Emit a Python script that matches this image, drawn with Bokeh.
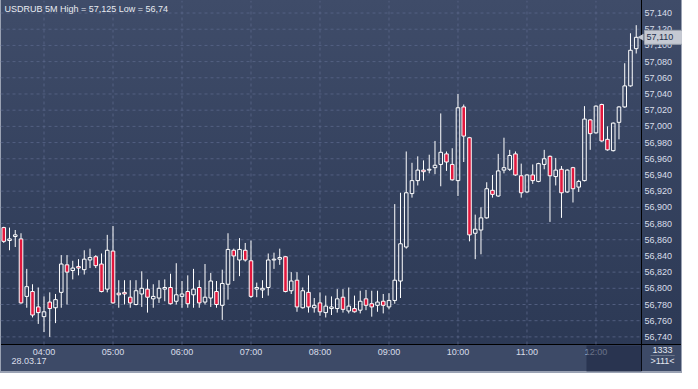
import math
import numpy as np
import pandas as pd
from bokeh.plotting import figure
from bokeh.models import (ColumnDataSource, Range1d, FixedTicker, DatetimeTickFormatter,
                          CustomJSTickFormatter, Label, BoxAnnotation)
from bokeh.embed import file_html
from bokeh.resources import INLINE

# ---------------- data ----------------
title_text = "USDRUB 5M High = 57,125 Low = 56,74"
start_time = "2017-03-28 03:25"
date_label = "28.03.17"
hour_ticks = ["2017-03-28 04:00", "2017-03-28 05:00", "2017-03-28 06:00",
              "2017-03-28 07:00", "2017-03-28 08:00", "2017-03-28 09:00",
              "2017-03-28 10:00", "2017-03-28 11:00", "2017-03-28 12:00"]
price_ticks = [56.74, 56.76, 56.78, 56.80, 56.82, 56.84, 56.86, 56.88, 56.90,
               56.92, 56.94, 56.96, 56.98, 57.00, 57.02, 57.04, 57.06, 57.08,
               57.10, 57.12, 57.14]
last_price_label = "57,110"
counter_top = "1333"
counter_bottom = ">111<"

opens = [56.875, 56.859, 56.864, 56.861, 56.790, 56.796, 56.777, 56.765, 56.783, 56.776,
         56.795, 56.829, 56.822, 56.827, 56.823, 56.835, 56.839, 56.830, 56.799, 56.846,
         56.794, 56.795, 56.789, 56.780, 56.793, 56.799, 56.787, 56.788, 56.799, 56.801,
         56.784, 56.790, 56.796, 56.792, 56.801, 56.783, 56.788, 56.796, 56.779, 56.805,
         56.847, 56.835, 56.847, 56.834, 56.799, 56.798, 56.801, 56.835, 56.836, 56.839,
         56.797, 56.810, 56.776, 56.795, 56.776, 56.782, 56.770, 56.775, 56.775, 56.789,
         56.772, 56.775, 56.773, 56.787, 56.781, 56.779, 56.784, 56.777, 56.785, 56.809,
         56.851, 56.917, 56.933, 56.946, 56.946, 56.949, 56.953, 56.966, 56.953, 56.933,
         57.024, 56.986, 56.868, 56.872, 56.887, 56.921, 56.914, 56.946, 56.947, 56.966,
         56.939, 56.919, 56.940, 56.932, 56.953, 56.963, 56.938, 56.947, 56.919, 56.949,
         56.925, 56.933, 57.008, 56.992, 57.027, 56.984, 56.970, 57.005, 57.024, 57.050,
         57.096]
highs = [56.876, 56.875, 56.872, 56.868, 56.824, 56.805, 56.801, 56.790, 56.795, 56.793,
         56.841, 56.841, 56.834, 56.836, 56.847, 56.849, 56.841, 56.843, 56.866, 56.877,
         56.810, 56.810, 56.810, 56.810, 56.821, 56.811, 56.805, 56.810, 56.811, 56.818,
         56.831, 56.809, 56.816, 56.824, 56.810, 56.830, 56.819, 56.809, 56.823, 56.868,
         56.849, 56.862, 56.856, 56.859, 56.807, 56.810, 56.843, 56.844, 56.849, 56.840,
         56.820, 56.820, 56.801, 56.816, 56.788, 56.795, 56.791, 56.790, 56.799, 56.799,
         56.801, 56.791, 56.797, 56.798, 56.797, 56.797, 56.793, 56.794, 56.904, 56.918,
         56.969, 56.955, 56.963, 56.958, 56.965, 56.982, 57.016, 56.969, 56.973, 57.040,
         57.027, 56.987, 56.891, 56.900, 56.931, 56.940, 56.966, 56.986, 56.971, 56.969,
         56.954, 56.941, 56.953, 56.955, 56.971, 56.964, 56.961, 56.951, 56.947, 56.950,
         56.934, 57.025, 57.009, 57.026, 57.028, 57.000, 57.005, 57.025, 57.078, 57.115,
         57.125]
lows = [56.856, 56.847, 56.851, 56.781, 56.776, 56.764, 56.756, 56.746, 56.740, 56.757,
        56.776, 56.780, 56.811, 56.816, 56.817, 56.825, 56.825, 56.795, 56.795, 56.781,
        56.776, 56.780, 56.776, 56.779, 56.777, 56.770, 56.776, 56.782, 56.784, 56.780,
        56.780, 56.776, 56.776, 56.776, 56.776, 56.780, 56.777, 56.776, 56.761, 56.786,
        56.809, 56.815, 56.833, 56.788, 56.789, 56.788, 56.791, 56.824, 56.829, 56.795,
        56.793, 56.771, 56.775, 56.770, 56.770, 56.766, 56.764, 56.767, 56.770, 56.770,
        56.769, 56.770, 56.769, 56.773, 56.765, 56.771, 56.769, 56.774, 56.781, 56.788,
        56.849, 56.912, 56.927, 56.933, 56.942, 56.941, 56.926, 56.945, 56.933, 56.914,
        56.956, 56.858, 56.836, 56.842, 56.886, 56.912, 56.913, 56.942, 56.945, 56.939,
        56.912, 56.918, 56.929, 56.931, 56.947, 56.882, 56.927, 56.887, 56.918, 56.906,
        56.919, 56.932, 56.971, 56.991, 56.981, 56.970, 56.969, 56.984, 57.023, 57.049,
        57.090]
closes = [56.858, 56.861, 56.866, 56.782, 56.802, 56.767, 56.770, 56.771, 56.775, 56.786,
          56.830, 56.820, 56.825, 56.825, 56.836, 56.838, 56.828, 56.796, 56.847, 56.782,
          56.792, 56.793, 56.782, 56.797, 56.800, 56.789, 56.790, 56.800, 56.801, 56.781,
          56.792, 56.793, 56.781, 56.799, 56.782, 56.789, 56.809, 56.780, 56.806, 56.848,
          56.840, 56.848, 56.835, 56.790, 56.801, 56.800, 56.835, 56.836, 56.838, 56.796,
          56.809, 56.777, 56.797, 56.777, 56.779, 56.771, 56.778, 56.777, 56.787, 56.774,
          56.778, 56.771, 56.784, 56.779, 56.777, 56.783, 56.779, 56.785, 56.810, 56.855,
          56.918, 56.933, 56.946, 56.944, 56.947, 56.952, 56.968, 56.956, 56.934, 57.023,
          56.988, 56.866, 56.873, 56.887, 56.923, 56.916, 56.945, 56.949, 56.964, 56.940,
          56.918, 56.940, 56.933, 56.954, 56.960, 56.939, 56.946, 56.918, 56.946, 56.923,
          56.932, 57.009, 56.991, 57.025, 56.982, 56.971, 57.004, 57.024, 57.050, 57.094,
          57.110]

# ---------------- layout / style constants ----------------
RED = "#e2173d"
TEXT = "#d9dee9"
GRID = "#5a6789"
FONT = "Liberation Sans"
W, H = 682, 373
CHART_RIGHT_PX = 641      # canvas x of the price-axis line
CHART_BOTTOM_PX = 344     # canvas y of the time-axis line
X_LO, X_HI, X_EDGE = -0.568, 118.049, 110.918   # in candle steps from first candle
Y_LO, Y_HI, Y_EDGE = 56.69478, 57.15547, 56.7306

o = np.array(opens); h = np.array(highs); l = np.array(lows); c = np.array(closes)
n = len(o)
times = pd.date_range(start_time, periods=n, freq="5min")
step = pd.Timedelta(minutes=5)
t0 = times[0]
x_edge = t0 + X_EDGE * step
x_edge_ms = x_edge.value / 1e6
up = c >= o

src = ColumnDataSource(dict(
    t=times, h=h, l=l,
    top=np.maximum(o, c), bot=np.minimum(o, c),
    fill=np.where(up, "#000000", RED),
    alpha=np.where(up, 0.0, 1.0),
))

p = figure(width=W, height=H, x_axis_type="datetime", y_axis_location="right",
           x_range=Range1d(t0 + X_LO * step, t0 + X_HI * step),
           y_range=Range1d(Y_LO, Y_HI),
           output_backend="svg", toolbar_location=None,
           min_border_left=0, min_border_right=0, min_border_top=0, min_border_bottom=0)

p.background_fill_alpha = 0
p.border_fill_alpha = 0
p.outline_line_color = None
p.styles = {
    "background": ("linear-gradient(#000,#000) %dpx 0px / 1px 100%% no-repeat, "
                   "linear-gradient(#000,#000) 0px %dpx / 100%% 1px no-repeat, "
                   "linear-gradient(to bottom, #3f4c69 0px, #2c3955 %dpx, #3d4a67 %dpx, #3d4a67 %dpx)")
                  % (CHART_RIGHT_PX, CHART_BOTTOM_PX, CHART_BOTTOM_PX, CHART_BOTTOM_PX + 1, H),
    "box-shadow": "inset 1px 0 0 #9aa2b3, inset -1px 0 0 #9aa2b3, inset 0 -2px 0 #9aa2b3",
}
p.xgrid.visible = False
p.ygrid.visible = False

# grid lines limited to the chart area
hours = pd.to_datetime(hour_ticks)
p.segment(x0=[t0 + X_LO * step] * len(price_ticks), y0=price_ticks,
          x1=[x_edge] * len(price_ticks), y1=price_ticks,
          line_color=GRID, line_dash="3 3", line_width=1, line_alpha=0.8)
p.segment(x0=hours, y0=[Y_EDGE] * len(hours), x1=hours, y1=[Y_HI] * len(hours),
          line_color=GRID, line_dash="3 3", line_width=1, line_alpha=0.8)

# axes drawn at the chart edges
hour_ms = [t.value / 1e6 for t in hours]
p.xaxis.ticker = FixedTicker(ticks=hour_ms)
p.yaxis.ticker = FixedTicker(ticks=price_ticks)
p.xaxis.fixed_location = Y_EDGE
p.yaxis.fixed_location = x_edge_ms
p.xaxis.formatter = DatetimeTickFormatter(hours="%H:%M", hourmin="%H:%M",
                                          minutes="%H:%M", minsec="%H:%M", days="%H:%M")
p.yaxis.formatter = CustomJSTickFormatter(code="return tick.toFixed(3).replace('.', ',');")
for ax in (p.xaxis, p.yaxis):
    ax.axis_line_color = None
    ax.major_tick_line_color = None
    ax.minor_tick_line_color = None
    ax.major_tick_out = 0
    ax.major_tick_in = 0
    ax.minor_tick_out = 0
    ax.minor_tick_in = 0
    ax.major_label_text_color = TEXT
    ax.major_label_text_font = FONT
    ax.major_label_text_font_size = "9px"
    ax.major_label_standoff = 3

# candles
p.segment(x0="t", y0="h", x1="t", y1="top", source=src, line_color="white", line_width=1)
p.segment(x0="t", y0="bot", x1="t", y1="l", source=src, line_color="white", line_width=1)
p.vbar(x="t", width=0.62 * step.total_seconds() * 1000, top="top", bottom="bot",
       fill_color="fill", fill_alpha="alpha", line_color="white", line_width=1, source=src)

# current price marker
p.scatter(x=[x_edge], y=[closes[-1]], marker="triangle", angle=math.pi / 2, size=7,
          fill_color="#c5c9d2", line_color=None)
p.add_layout(Label(x=CHART_RIGHT_PX + 3, y=closes[-1], x_units="screen", y_units="data",
                   text=last_price_label + "    ", text_color="#22304c", text_font=FONT,
                   text_font_size="9px", text_baseline="middle", text_align="left",
                   background_fill_color="#c5c9d2", border_line_color="#9aa0ab",
                   padding=2))

# texts (screen y measured upward from the canvas bottom)
p.add_layout(Label(x=4, y=H - 8, x_units="screen", y_units="screen", text=title_text,
                   text_color="#e8ebf1", text_font=FONT, text_font_size="9px",
                   text_baseline="middle", text_align="left"))
p.add_layout(Label(x=11, y=H - 360, x_units="screen", y_units="screen", text=date_label,
                   text_color=TEXT, text_font=FONT, text_font_size="9px",
                   text_baseline="middle", text_align="left"))
p.add_layout(Label(x=662, y=H - 349, x_units="screen", y_units="screen", text=counter_top,
                   text_color="#e3e7ef", text_font=FONT, text_font_size="9px",
                   text_baseline="middle", text_align="center"))
p.add_layout(Label(x=662, y=H - 355, x_units="screen", y_units="screen", text="─────",
                   text_color="#7c8597", text_font="DejaVu Sans Mono", text_font_size="8px",
                   text_baseline="middle", text_align="center"))
p.add_layout(Label(x=662, y=H - 360, x_units="screen", y_units="screen", text=counter_bottom,
                   text_color="#e3e7ef", text_font=FONT, text_font_size="9px",
                   text_baseline="middle", text_align="center"))

# darker navigator block under the last hour
p.add_layout(BoxAnnotation(left=586, right=CHART_RIGHT_PX, top=H - CHART_BOTTOM_PX - 1, bottom=2,
                           left_units="screen", right_units="screen",
                           top_units="screen", bottom_units="screen",
                           fill_color="#1d2741", fill_alpha=0.6, line_color=None,
                           level="overlay"))

open("out.html", "w").write(file_html(p, INLINE))
